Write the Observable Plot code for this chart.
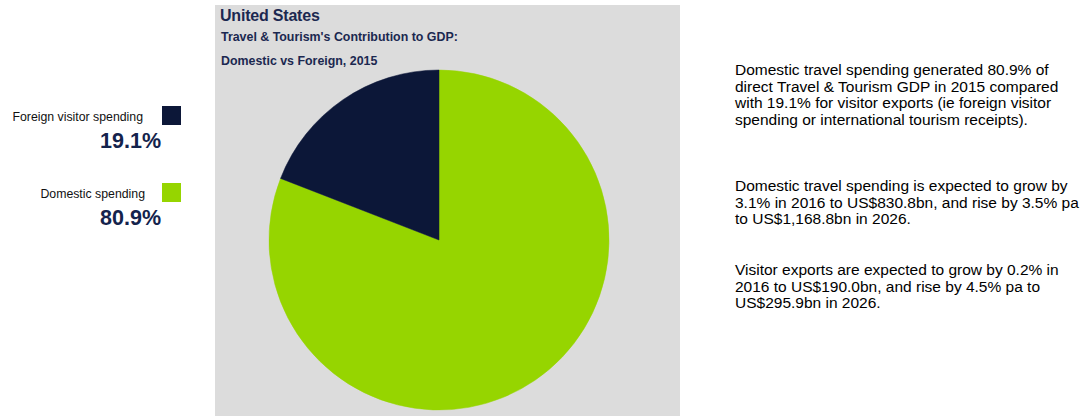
<!DOCTYPE html>
<html>
<head>
<meta charset="utf-8">
<script src="https://cdn.jsdelivr.net/npm/d3@7"></script>
<script src="https://cdn.jsdelivr.net/npm/@observablehq/plot@0.6"></script>
<style>
  html, body { margin: 0; padding: 0; background: #ffffff; }
  body { width: 1085px; height: 416px; position: relative; overflow: hidden; font-family: "Liberation Sans", Arial, sans-serif; }
  #panel { position: absolute; left: 215px; top: 5px; }
  .title { position: absolute; left: 220px; top: 7px; font-size: 16px; font-weight: bold; color: #1b2850; letter-spacing: -0.2px; }
  .sub { position: absolute; left: 221px; font-size: 12.4px; font-weight: bold; color: #1b2850; white-space: nowrap; }
  .leglab { position: absolute; font-size: 12.3px; color: #111; text-align: right; width: 200px; white-space: nowrap; }
  .legpct { position: absolute; font-size: 21.5px; font-weight: bold; color: #14234c; text-align: right; width: 100px; }
  .sw { position: absolute; width: 19px; height: 19px; }
  .para { position: absolute; left: 735px; font-size: 15.5px; line-height: 16.5px; color: #000; white-space: nowrap; }
</style>
</head>
<body>
<div id="panel"></div>
<div class="title">United States</div>
<div class="sub" style="top:30px">Travel &amp; Tourism's Contribution to GDP:</div>
<div class="sub" style="top:54px">Domestic vs Foreign, 2015</div>
<div id="legend"></div>
<div class="para" style="top:62px">Domestic travel spending generated 80.9% of<br>direct Travel &amp; Tourism GDP in 2015 compared<br>with 19.1% for visitor exports (ie foreign visitor<br>spending or international tourism receipts).</div>
<div class="para" style="top:178px">Domestic travel spending is expected to grow by<br>3.1% in 2016 to US$830.8bn, and rise by 3.5% pa<br>to US$1,168.8bn in 2026.</div>
<div class="para" style="top:262px">Visitor exports are expected to grow by 0.2% in<br>2016 to US$190.0bn, and rise by 4.5% pa to<br>US$295.9bn in 2026.</div>
<script>
const categories = ["Foreign visitor spending", "Domestic spending"];
const shares = [19.1, 80.9];
const shareLabels = ["19.1%", "80.9%"];
const colors = ["#0c1738", "#96d500"];

const data = categories.map((c, i) => ({category: c, value: shares[i], label: shareLabels[i]}));
const colorScale = Plot.scale({color: {type: "ordinal", domain: categories, range: colors}});

// Pie drawn clockwise from 12 o'clock with domestic first, so foreign sits at top-left
const pieData = d3.pie().sort(null).value(d => d.value)([...data].reverse());

function pieMark(index, scales, values, dimensions) {
  const cx = scales.x(0), cy = scales.y(0);
  const r = Math.abs(scales.x(1) - scales.x(0));
  const arc = d3.arc().innerRadius(0).outerRadius(r);
  const g = d3.create("svg:g").attr("transform", `translate(${cx},${cy})`);
  g.selectAll("path").data(pieData).join("path")
    .attr("d", arc)
    .attr("fill", d => colorScale.apply(d.data.category))
    .attr("stroke", d => colorScale.apply(d.data.category))
    .attr("stroke-width", 0.5);
  return g.node();
}

const chart = Plot.plot({
  width: 465,
  height: 411,
  marginLeft: 54,
  marginRight: 71,
  marginTop: 65,
  marginBottom: 6,
  x: {domain: [-1, 1], axis: null},
  y: {domain: [-1, 1], axis: null},
  style: {background: "#dcdcdc"},
  marks: [
    Plot.frame({stroke: "none"}),
    pieMark
  ]
});
document.getElementById("panel").appendChild(chart);

// Legend
const legend = document.getElementById("legend");
const legendTops = [110, 187];
const labelRight = [143, 145];
data.forEach((d, i) => {
  const top = legendTops[i];
  const lab = document.createElement("div");
  lab.className = "leglab";
  lab.style.left = (labelRight[i] - 200) + "px";
  lab.style.top = top + "px";
  lab.textContent = d.category;
  legend.appendChild(lab);
  const sw = document.createElement("div");
  sw.className = "sw";
  sw.style.left = "162px";
  sw.style.top = (top - 4) + "px";
  sw.style.background = colorScale.apply(d.category);
  legend.appendChild(sw);
  const pct = document.createElement("div");
  pct.className = "legpct";
  pct.style.left = "61px";
  pct.style.top = (top + 19) + "px";
  pct.textContent = d.label;
  legend.appendChild(pct);
});
</script>
</body>
</html>
